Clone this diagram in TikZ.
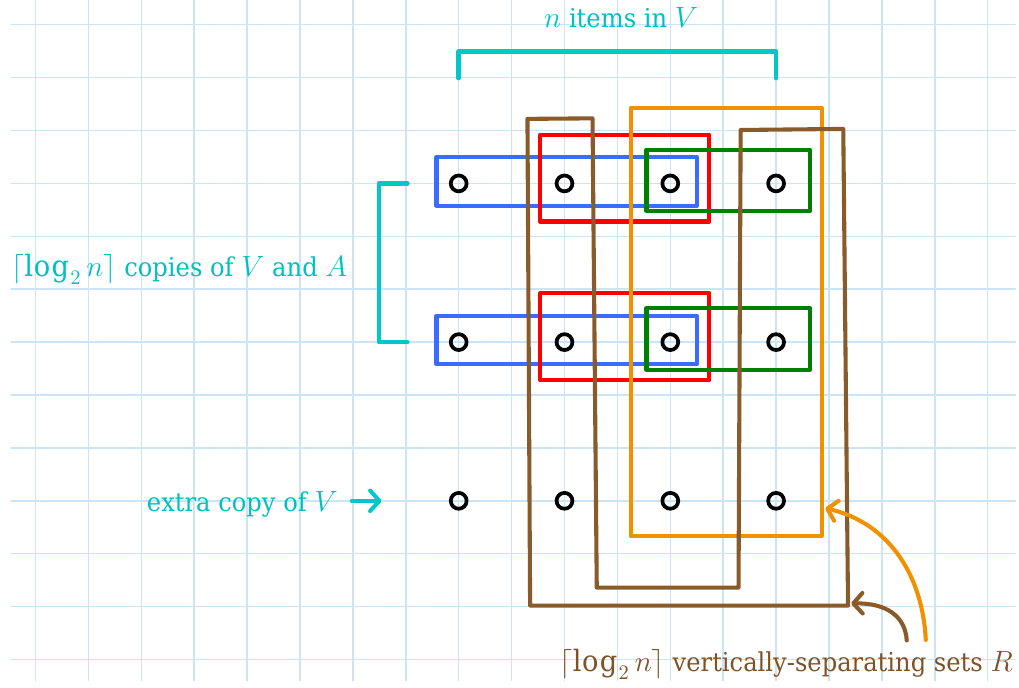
\documentclass[tikz,border=0pt]{standalone}
\usepackage{fix-cm}
\usepackage{fontspec}
\setmainfont[FakeStretch=0.93]{DejaVu Serif}
\usetikzlibrary{arrows.meta}
\definecolor{gridblue}{RGB}{204,228,244}
\definecolor{tealc}{RGB}{0,200,200}
\definecolor{tealtext}{RGB}{0,192,192}
\definecolor{setblue}{RGB}{61,107,255}
\definecolor{setred}{RGB}{255,0,0}
\definecolor{setgreen}{RGB}{0,128,0}
\definecolor{setorange}{RGB}{240,145,0}
\definecolor{setbrown}{RGB}{137,90,42}
\definecolor{browntext}{RGB}{125,84,40}
% math set a little larger than the surrounding text
\newcommand\mth[1]{{\fontsize{15.8}{18}\selectfont$#1$}}

\begin{document}
\begin{tikzpicture}[x=1cm,y=-1cm,line join=round,line cap=round,
  gridline/.style={gridblue,line width=0.8pt},
  setline/.style={line width=2.2pt},
  item/.style={circle,draw=black,line width=2pt,minimum size=0.30cm,inner sep=0pt},
  lbl/.style={inner sep=0pt,font=\fontsize{14}{16}\selectfont},
  bar/.style={tealc,line width=2.4pt},
  barb/.style={-{Straight Barb[length=5pt,width=11pt,round]}},
  pointer/.style={line width=2.2pt,barb}]

% page frame
\useasboundingbox (-0.671,-0.467) rectangle (18.592,12.520);

% squared paper
\foreach \i in {0,...,12} \draw[gridline] (-0.463,\i) -- (18.52,\i);
\foreach \i in {0,...,18} \draw[gridline] (\i,-0.467) -- (\i,12.40);

% items: columns 8,10,12,14 and rows 3,6,9
\foreach \r in {3,6,9}
  \foreach \c in {8,10,12,14}
    \node[item] (d-\r-\c) at (\c,\r) {};

% sets inside each copy of V
\foreach \r in {3,6} {
  \draw[setline,setblue]  (7.58,\r-0.50) rectangle (12.50,\r+0.42);
  \draw[setline,setred]   (9.54,\r-0.92) rectangle (12.74,\r+0.72);
  \draw[setline,setgreen] (11.55,\r-0.64) rectangle (14.64,\r+0.52);
}

% vertically-separating sets
\draw[setline,setorange] (11.25,1.58) -- (14.86,1.58) -- (14.86,9.67) -- (11.25,9.67) -- cycle;
\draw[setline,setbrown] (9.30,1.78) -- (10.53,1.77) -- (10.61,10.64) -- (13.29,10.64)
  -- (13.33,1.99) -- (15.27,1.97) -- (15.36,10.98) -- (9.35,10.98) -- cycle;

% brackets
\coordinate (tl) at (8,1.01);
\coordinate (tr) at (14,1.01);
\draw[bar] (tl) -- (8,0.51) -- (14,0.51) -- (tr);
\coordinate (lt) at (7.03,3);
\coordinate (lb) at (7.03,6);
\draw[bar] (lt) -- (6.49,3) -- (6.49,6) -- (lb);

% labels
\node[lbl,text=tealtext,anchor=base] (top) at (11.07,0.06) {\mth{n} items in \mth{V}};
\node[lbl,text=tealtext,anchor=base west] (copies) at (-0.463,4.76)
  {\mth{\lceil \log_2 n\rceil} copies of \mth{V} and \mth{A}};
\node[lbl,text=tealtext,anchor=base east] (extra) at (5.72,9.21) {extra copy of \mth{V}};
\coordinate (ea) at (5.98,9.0);
\coordinate (eb) at (6.54,9.0);
\draw[pointer,tealc] (ea) -- (eb);
\node[lbl,text=browntext,anchor=base east] (sets) at (18.48,12.23)
  {\mth{\lceil \log_2 n\rceil} vertically-separating sets \mth{R}};

% pointers to the separating sets
\coordinate (os) at (16.83,11.63);
\coordinate (oe) at (14.93,9.14);
\draw[pointer,setorange] (os) .. controls (16.76,10.31) and (16.06,9.40) .. (oe);
\coordinate (bs) at (16.47,11.64);
\coordinate (be) at (15.42,10.94);
\draw[pointer,setbrown] (bs) .. controls (16.44,11.16) and (16.06,10.93) .. (be);
\end{tikzpicture}
\end{document}
